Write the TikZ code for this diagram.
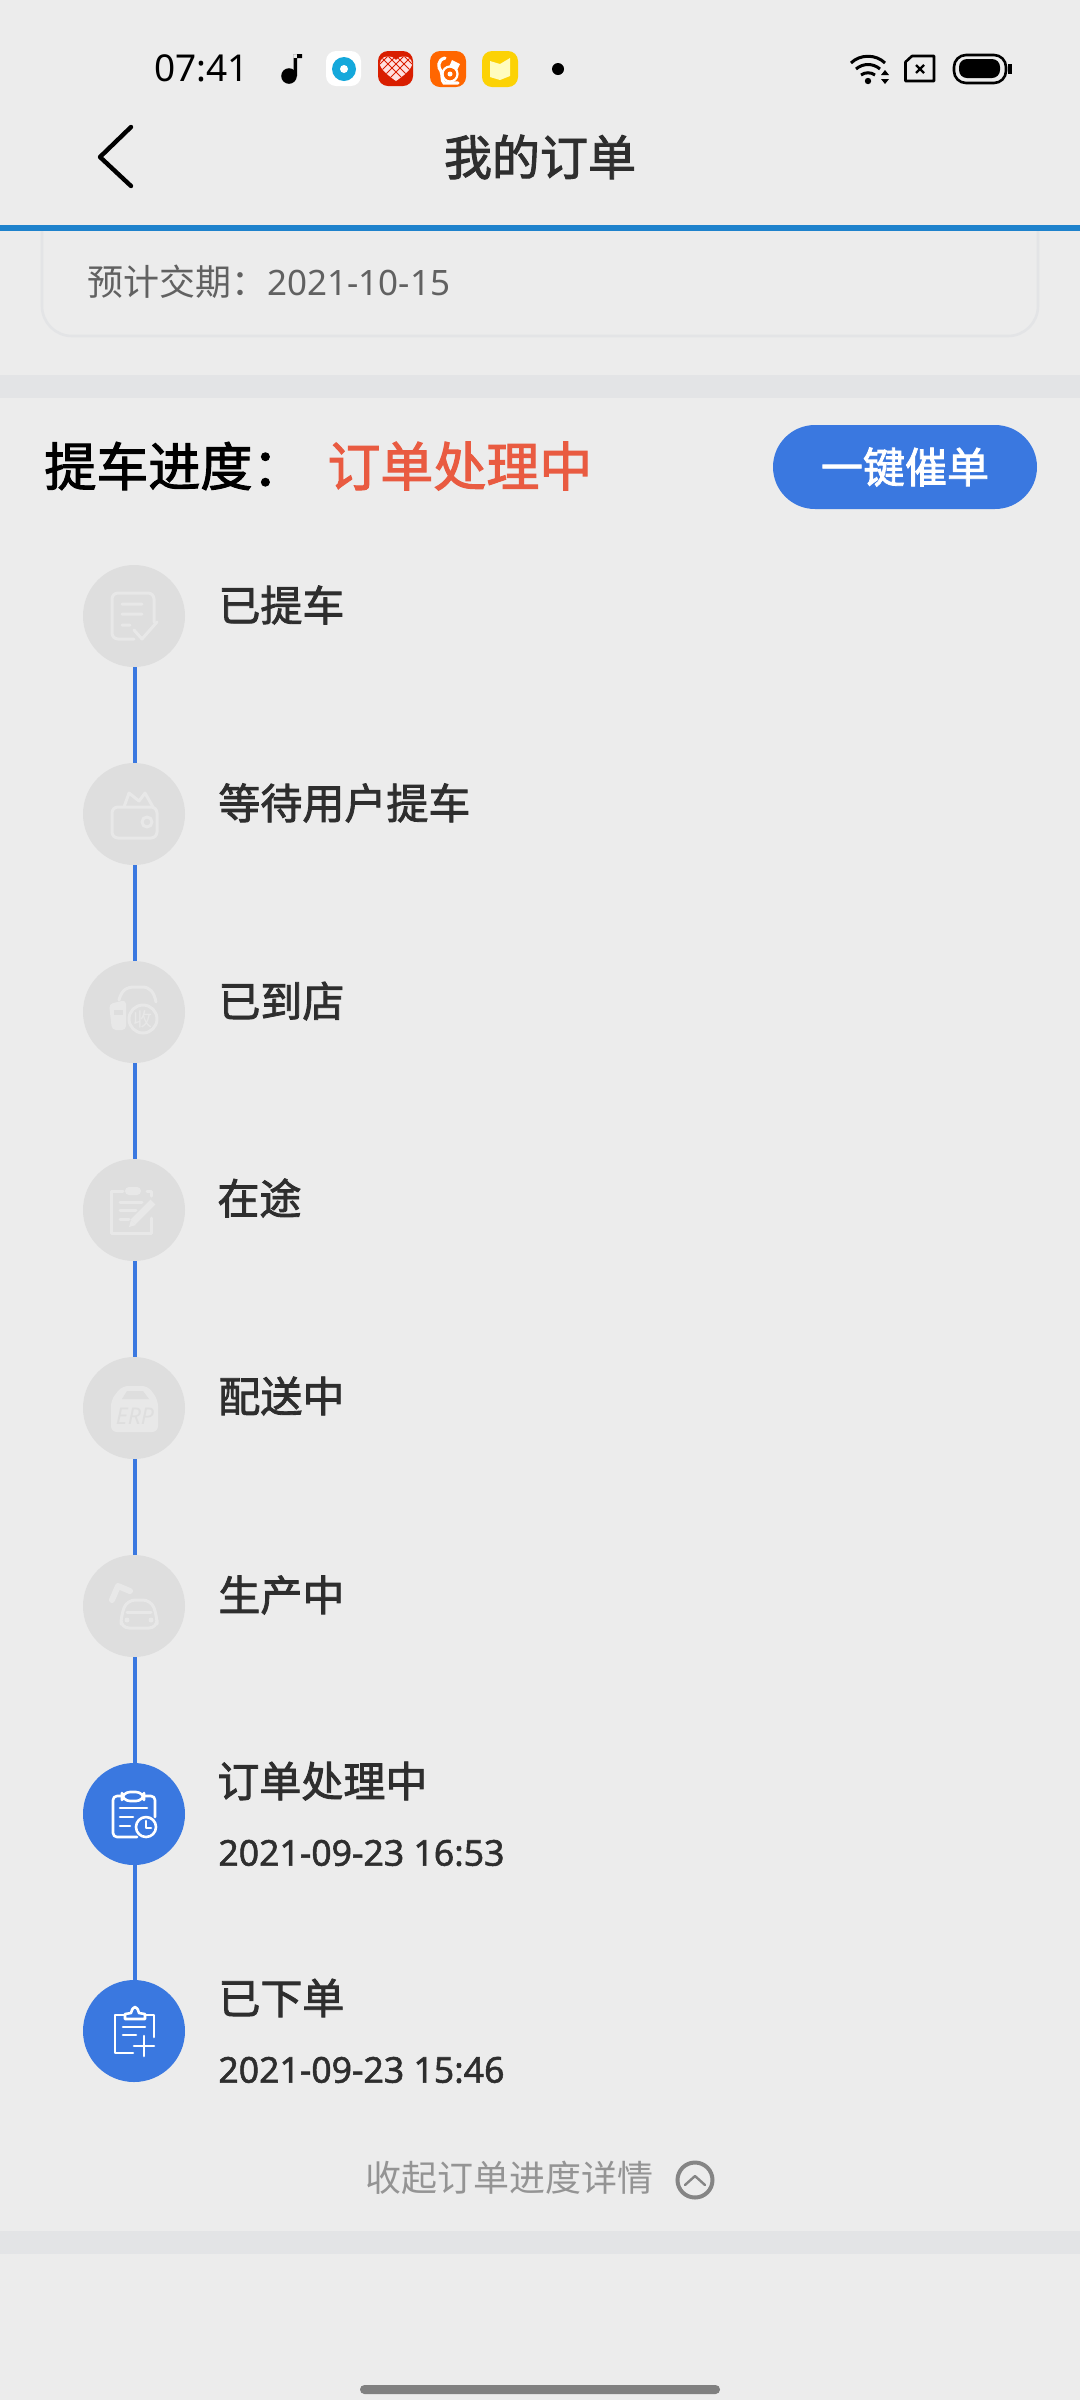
\documentclass[tikz,border=0pt]{standalone}
\usepackage{fontspec}
\setmainfont{Noto Sans}
\newfontfamily\cjk{Noto Sans CJK SC}
\newfontfamily\cjkm[FakeBold=2]{Noto Sans CJK SC}
\newfontfamily\lat{Noto Sans}
\newfontfamily\latm[FakeBold=1.5]{Noto Sans}
\definecolor{bg}{HTML}{ECECEC}
\definecolor{band}{HTML}{E3E4E6}
\definecolor{hdr}{HTML}{1E82CC}
\definecolor{pri}{HTML}{3A78E0}
\definecolor{off}{HTML}{DEDEDE}
\definecolor{offl}{HTML}{E8E8E8}
\definecolor{ink}{HTML}{2E2E2E}
\definecolor{alert}{HTML}{E95B41}
\tikzset{
  txt/.style={anchor=west,inner sep=0pt,text=ink},
  lab/.style={txt,font=\cjkm\fontsize{21}{21}\selectfont},
  dat/.style={txt,font=\latm\fontsize{17.8}{17.8}\selectfont},
  donec/.style={circle,fill=off,minimum size=51pt,inner sep=0pt},
  actc/.style={circle,fill=pri,minimum size=51pt,inner sep=0pt},
  link/.style={pri,line width=1.6pt},
  ioff/.style={draw=offl,line width=1.5pt,line cap=round,line join=round},
  ion/.style={draw=white,line width=1.3pt,line cap=round,line join=round},
  appi/.style={rounded corners=5pt}
}
\begin{document}
\begin{tikzpicture}[x=0.5pt,y=-0.5pt]
\useasboundingbox (0,0) rectangle (1080,2400);
\fill[bg] (0,0) rectangle (1080,2400);
% status bar
\node[txt,text=black,font=\lat\fontsize{18.5}{18.5}\selectfont] (time) at (154,68) {07:41};
\fill[black] (289,76) circle (7.8);
\fill[black] (293.5,76) rectangle (297,54) (293.5,54) rectangle (302,58);
% app icons
\fill[white,appi] (326,51) rectangle (361,86);
\fill[hdr!70!cyan] (344,69) circle (12);
\fill[white] (344,69) circle (4);
\fill[red!72!orange!85!black,appi] (378,51) rectangle (413,86);
\begin{scope}
\clip (396,81) .. controls (380,70) and (378,64) .. (381,60) .. controls (384,55) and (392,55) .. (396,60) .. controls (400,55) and (408,55) .. (411,60) .. controls (414,64) and (412,70) .. (396,81) -- cycle;
\fill[white!88!red] (376,50) rectangle (416,85);
\draw[red!72!orange!85!black,line width=0.5pt] (380,56) -- (406,82) (388,56) -- (412,80) (396,56) -- (412,72) (404,56) -- (412,64) (412,56) -- (386,82) (404,56) -- (380,80) (396,56) -- (380,72) (388,56) -- (380,64);
\end{scope}
\fill[orange!80!red,appi] (430,51) rectangle (466,87);
\draw[white,line width=1.1pt] (450,74) circle (7.5);
\fill[white] (450,74) circle (2.5);
\draw[white,line width=1.6pt,line cap=round] (445,58) .. controls (437,60) and (438,68) .. (441,71) .. controls (443,76) and (441,80) .. (444,83) -- (458,83);
\fill[white] (452,60) -- (460,64) -- (457,70) -- (449,67) -- cycle;
\fill[yellow!70!orange,appi] (482,51) rectangle (518,87);
\fill[white!75!yellow] (490,61) -- (500,64) -- (510,58) -- (510,76) -- (500,80) -- (490,77) -- cycle;
\fill[black] (558,69) circle (6);
% wifi, sim, battery
\draw[black,line width=1.5pt] (851,63) .. controls (860,54) and (876,54) .. (885,63);
\draw[black,line width=1.5pt] (856,69) .. controls (863,63) and (873,63) .. (880,69);
\draw[black,line width=1.5pt] (861,75) .. controls (865,72) and (871,72) .. (875,75);
\fill[black] (868,81) circle (3.2);
\fill[black] (885,70) -- (889,75) -- (881,75) -- cycle (885,84) -- (889,79) -- (881,79) -- cycle;
\draw[black,line width=1.3pt,line join=round] (912,56) -- (934,56) -- (934,81) -- (905.5,81) -- (905.5,62) -- cycle;
\draw[black,line width=1.2pt] (916,65) -- (924,73) (924,65) -- (916,73);
\draw[black,line width=1.3pt,rounded corners=6pt] (954,55) rectangle (1006,83);
\fill[black,rounded corners=4pt] (959,59) rectangle (1000,78);
\fill[black] (1008,64) rectangle (1012,74);
% title bar
\draw[black,line width=2.2pt,line cap=round,line join=round] (131,127) -- (100,157) -- (131,186);
\node[inner sep=0pt,text=ink,font=\cjkm\fontsize{24}{24}\selectfont] (title) at (540,157) {我的订单};
% card
\draw[draw=band,line width=1.3pt,rounded corners=15pt] (42,225) -- (42,336) -- (1038,336) -- (1038,225);
\node[txt,text=black!62,font=\cjk\fontsize{18}{18}\selectfont] (eta) at (87,282) {预计交期：\lat\fontsize{17.5}{17.5}\selectfont 2021-10-15};
\fill[hdr] (0,225) rectangle (1080,231);
\fill[band] (0,375) rectangle (1080,398);
% progress header
\node[txt,text=black,font=\cjkm\fontsize{26}{26}\selectfont] (ph) at (44,466) {提车进度：};
\node[txt,text=alert,font=\cjkm\fontsize{26.5}{26.5}\selectfont] (st) at (327,466) {订单处理中};
\node[fill=pri,rounded corners=21pt,minimum width=132pt,minimum height=42pt,inner sep=0pt,text=white,font=\cjkm\fontsize{21}{21}\selectfont] (btn) at (905,467) {一键催单};
% timeline nodes
\node[donec] (n1) at (134,616) {};
\node[donec] (n2) at (134,814) {};
\node[donec] (n3) at (134,1012) {};
\node[donec] (n4) at (134,1210) {};
\node[donec] (n5) at (134,1408) {};
\node[donec] (n6) at (134,1606) {};
\node[actc] (n7) at (134,1814) {};
\node[actc] (n8) at (134,2031) {};
\foreach \a/\b in {n1/n2,n2/n3,n3/n4,n4/n5,n5/n6,n6/n7,n7/n8}
  \draw[link] ([xshift=0.5pt]\a.south) -- ([xshift=0.5pt]\b.north);
% labels
\node[lab] (l1) at (218,605) {已提车};
\node[lab] (l2) at (218,803) {等待用户提车};
\node[lab] (l3) at (218,1001) {已到店};
\node[lab] (l4) at (217,1198) {在途};
\node[lab] (l5) at (218,1396) {配送中};
\node[lab] (l6) at (218,1595) {生产中};
\node[lab] (l7) at (217,1781) {订单处理中};
\node[dat] (d7) at (218,1853) {2021-09-23 16:53};
\node[lab] (l8) at (218,1998) {已下单};
\node[dat] (d8) at (218,2070) {2021-09-23 15:46};
% icon 1
\begin{scope}[shift={(134,616)}]
\draw[ioff,rounded corners=3pt] (0,23) -- (-22,23) -- (-22,-23) -- (20,-23) -- (20,6);
\draw[ioff] (-12,-12) -- (8,-12) (-12,-2) -- (8,-2) (-12,9) -- (-4,9) (0,14) -- (8,23) -- (23,6);
\end{scope}
% icon 2
\begin{scope}[shift={(134,814)}]
\draw[ioff,rounded corners=3pt] (-22,-7) rectangle (23,24);
\draw[ioff] (-10,-7) -- (-5,-21) -- (5,-13) -- (11,-21) -- (19,-7);
\draw[ioff] (13,8) circle (5);
\end{scope}
% icon 3
\begin{scope}[shift={(134,1012)}]
\draw[ioff] (-15,-12) .. controls (-12,-24) and (-5,-25) .. (0,-25) -- (8,-25) .. controls (16,-25) and (20,-20) .. (22,-10);
\fill[offl,rounded corners=2pt] (-25,-8) -- (-8,-12) -- (-8,18) -- (-22,18) -- cycle;
\fill[off] (-20,-2) rectangle (-11,3);
\draw[ioff] (9,7) circle (14);
\node[inner sep=0pt,text=offl,font=\cjk\fontsize{9.5}{9.5}\selectfont] (i3) at (9,7) {收};
\end{scope}
% icon 4
\begin{scope}[shift={(134,1210)}]
\draw[ioff] (-11,-19) -- (-23,-19) -- (-23,23) -- (17,23) -- (17,8);
\draw[ioff] (13,-19) -- (17,-19) -- (17,-14);
\fill[offl,rounded corners=2pt] (-9,-23) rectangle (7,-15);
\draw[ioff] (-14,-8) -- (8,-8) (-14,0) -- (2,0) (-14,9) -- (-5,9);
\draw[offl,line width=3.5pt] (-1,12) -- (19,-8);
\fill[offl] (-5,17) -- (-3,10) -- (2,15) -- cycle;
\end{scope}
% icon 5
\begin{scope}[shift={(134,1408)}]
\fill[offl,rounded corners=3pt] (-23,-8) -- (-12,-22) -- (14,-22) -- (24,-8) -- (24,24) -- (-23,24) -- cycle;
\fill[off] (-12,-9) -- (-7,-17) -- (9,-17) -- (15,-9) -- cycle;
\node[inner sep=0pt,text=off,font=\lat\fontsize{11.5}{11.5}\selectfont\itshape] (i5) at (1,8) {ERP};
\end{scope}
% icon 6
\begin{scope}[shift={(134,1606)}]
\draw[offl,line width=3pt,line cap=round,line join=round] (-22,-6) -- (-16,-20) -- (-4,-15);
\draw[ioff,rounded corners=4pt] (-13,22) -- (-13,10) -- (-7,-6) -- (17,-6) -- (23,10) -- (23,22) -- cycle;
\draw[ioff] (-7,6) -- (17,6);
\fill[offl] (-7,14) circle (2.5) (17,14) circle (2.5);
\end{scope}
% icon 7
\begin{scope}[shift={(134,1814)}]
\draw[ion,rounded corners=2pt] (-12,-18) -- (-21,-18) -- (-21,23) -- (3,23);
\draw[ion,rounded corners=2pt] (10,-18) -- (21,-18) -- (21,3);
\draw[ion,rounded corners=4pt] (-12,-22) rectangle (10,-13);
\draw[ion] (-14,-6) -- (13,-6) (-14,3) -- (-1,3) (-14,12) -- (-4,12);
\draw[ion] (12,13) circle (10);
\draw[ion] (12,7) -- (12,14) -- (17,14);
\end{scope}
% icon 8
\begin{scope}[shift={(134,2031)}]
\draw[ion] (-9,-16) -- (-19,-16) -- (-19,22) -- (-1,22);
\draw[ion] (11,-16) -- (20,-16) -- (20,6);
\draw[ion] (-9,-12) -- (-9,-17) -- (-3,-18) .. controls (-1,-26) and (3,-26) .. (5,-18) -- (11,-17) -- (11,-12) -- cycle;
\draw[ion] (-11,-4) -- (11,-4) (-11,4) -- (2,4);
\draw[ion] (0,15) -- (20,15) (10,5) -- (10,25);
\end{scope}
% footer
\node[txt,text=black!42,font=\cjk\fontsize{18}{18}\selectfont] (fold) at (365,2178) {收起订单进度详情};
\node[circle,draw=black!48,line width=2pt,minimum size=17.5pt,inner sep=0pt] (foldc) at (695,2180) {};
\draw[black!48,line width=1.2pt,line cap=round,line join=round] (685,2185) -- (695,2176) -- (705,2185);
\fill[band] (0,2231) rectangle (1080,2254);
\fill[black!50,rounded corners=2.2pt] (360,2385) rectangle (720,2394);
\end{tikzpicture}
\end{document}
